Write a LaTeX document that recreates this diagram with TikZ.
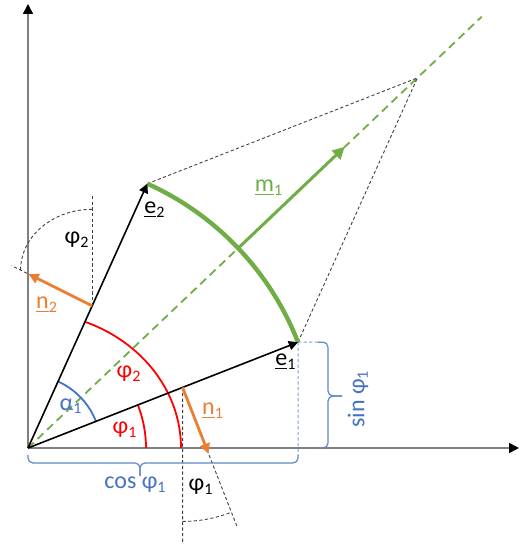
\documentclass[tikz,border=0pt]{standalone}
\usepackage{fontspec}
\setmainfont{Carlito}
\usetikzlibrary{arrows.meta,calc}
\definecolor{ogreen}{HTML}{70AD47}
\definecolor{oorange}{HTML}{ED7D31}
\definecolor{oblue}{HTML}{4472C4}
\definecolor{ogray}{HTML}{808080}
\definecolor{dgray}{HTML}{404040}
\begin{document}
\begin{tikzpicture}[x=0.5pt,y=0.5pt,
  axis/.style={ogray, line width=0.8pt, -{Triangle[length=5pt,width=5pt,color=black]}},
  vec/.style={black, line width=0.8pt, -{Triangle[length=4.6pt,width=4.6pt]}},
  nvec/.style={oorange, line width=1.4pt, -{Triangle[length=5pt,width=5pt]}},
  helper/.style={dgray, line width=0.45pt, dash pattern=on 1.6pt off 1.2pt},
  bdot/.style={oblue!70, line width=0.5pt, dash pattern=on 1.6pt off 1.2pt},
  brace/.style={oblue!85, line width=0.6pt, rounded corners=2.5pt},
  lbl/.style={font=\fontsize{12}{14}\selectfont, inner sep=0pt},
]
\useasboundingbox (-28,-96) rectangle (492,448);
% named points
\coordinate (O) at (0,0);
\coordinate (Ytop) at (0,444);
\coordinate (Xend) at (491,0);
\coordinate (E1) at (21.4:290);
\coordinate (E2) at (65.7:290);
\coordinate (S) at (389.4,370.1);
\coordinate (Bis) at (43.55:626);
\coordinate (M0) at (43.55:290);
\coordinate (M1) at (43.55:437);
\coordinate (N1) at (21.4:166);
\coordinate (N1t) at ($(N1)+(-68.6:71)$);
\coordinate (N1e) at ($(N1)+(-68.6:149)$);
\coordinate (N1v) at (154.6,-96);
\coordinate (N2) at (65.7:156);
\coordinate (N2t) at ($(N2)+(153.5:71)$);
\coordinate (N2e) at ($(N2)+(153.5:90)$);
\coordinate (N2v) at ($(N2)+(0,111)$);
\coordinate (E1d) at (270,-7);
\coordinate (E1r) at (290,105.8);
% axes
\draw[axis] (O) -- (Ytop);
\draw[axis] (O) -- (Xend);
% bisector
\draw[ogreen, line width=0.9pt, dash pattern=on 4pt off 2.6pt] (O) -- (Bis);
% helper dashed lines
\draw[helper] (E2) -- (S);
\draw[helper] (E1) -- (S);
\draw[helper] (N1) -- (N1e);
\draw[helper] (N1) -- (N1v);
\draw[helper] (N1) ++(-90:134) arc[start angle=-90, end angle=-68.6, radius=134];
\draw[helper] (N2) -- (N2e);
\draw[helper] (N2) -- (N2v);
\draw[helper] (N2) ++(0,96.5) arc[start angle=90, end angle=180, x radius=71.6, y radius=60.8];
% blue projections and braces
\draw[bdot] (E1) -- (E1d);
\draw[bdot] (E1) -- (E1r);
\draw[brace] (0,-7) -- (0,-15) -- (112,-15) -- (112,-28);
\draw[brace] (270,-7) -- (270,-15) -- (112,-15) -- (112,-28);
\draw[brace] (290,105.8) -- (300,105.8) -- (300,52) -- (314,52);
\draw[brace] (290,0) -- (300,0) -- (300,52) -- (314,52);
% angle arcs
\draw[red, line width=0.9pt] (118,0) arc[start angle=0, end angle=21.4, radius=118];
\draw[red, line width=0.9pt] (153,0) arc[start angle=0, end angle=68.1, x radius=153, y radius=136];
\draw[oblue, line width=0.9pt] (21.4:73) arc[start angle=21.4, end angle=65.7, radius=73];
% green arc and m1
\draw[ogreen, line width=2.2pt] (E1) arc[start angle=21.4, end angle=65.7, radius=290];
\draw[ogreen, line width=1.5pt, -{Triangle[length=6pt,width=6pt]}] (M0) -- (M1);
% vectors
\draw[vec] (O) -- (E1);
\draw[vec] (O) -- (E2);
\draw[nvec] (N1) -- (N1t);
\draw[nvec] (N2) -- (N2t);
% labels
\node[lbl, oblue] (la) at (43,42) {α\textsubscript{1}};
\node[lbl, red] (lp1) at (97,18) {φ\textsubscript{1}};
\node[lbl, red] (lp2) at (101,74) {φ\textsubscript{2}};
\node[lbl] (le1) at (258,86) {\underline{e}\textsubscript{1}};
\node[lbl, oorange] (ln1) at (185,37) {\underline{n}\textsubscript{1}};
\node[lbl, oblue] (lcos) at (107.5,-37) {cos φ\textsubscript{1}};
\node[lbl] (lp1b) at (173,-39) {φ\textsubscript{1}};
\node[lbl, oblue, rotate=90] (lsin) at (330,49) {sin φ\textsubscript{1}};
\node[lbl] (le2) at (127,238) {\underline{e}\textsubscript{2}};
\node[lbl] (lp2b) at (49,208) {φ\textsubscript{2}};
\node[lbl, oorange] (ln2) at (19,143) {\underline{n}\textsubscript{2}};
\node[lbl, ogreen] (lm1) at (241,260) {\underline{m}\textsubscript{1}};
\end{tikzpicture}
\end{document}
